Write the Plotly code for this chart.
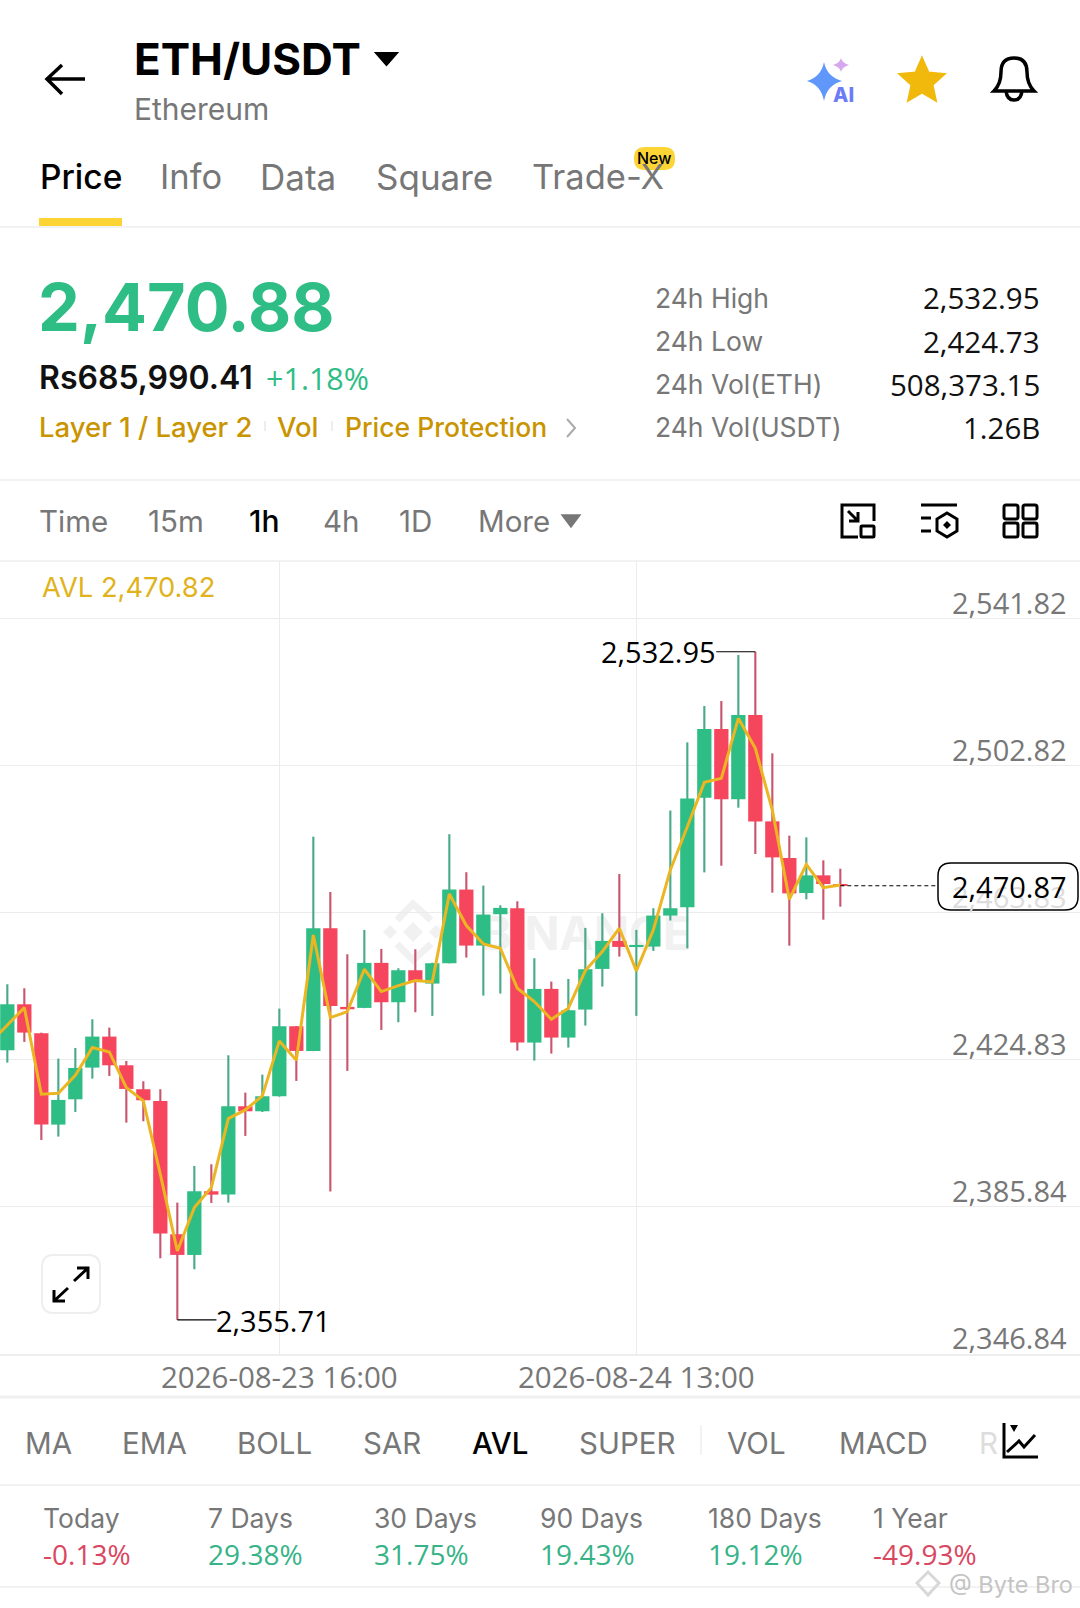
import math
import re

import numpy as np
import pandas as pd
import plotly.graph_objects as go

# hourly candles, first one is 2026-08-23 00:00
opens = [2427.23, 2439.43, 2431.74, 2407.51, 2414.23, 2422.63, 2430.86, 2423.25, 2416.89, 2413.79,
         2378.42, 2372.94, 2389.83, 2388.94, 2412.38, 2411.05, 2415.03, 2433.60, 2427.05, 2459.57,
         2438.73, 2438.47, 2450.41, 2439.97, 2448.46, 2444.92, 2450.32, 2469.86, 2455.00, 2463.32,
         2464.91, 2429.27, 2443.51, 2430.60, 2438.03, 2448.81, 2456.24, 2454.74, 2454.74, 2462.96,
         2465.14, 2494.23, 2512.45, 2493.79, 2516.16, 2487.95, 2478.23, 2468.94, 2473.63, 2471.33]
highs = [2444.74, 2443.68, 2431.90, 2425.02, 2427.85, 2435.45, 2433.24, 2424.40, 2419.01, 2416.89,
         2386.82, 2396.55, 2396.99, 2425.90, 2416.00, 2420.78, 2438.28, 2433.65, 2483.89, 2469.21,
         2452.70, 2459.16, 2454.12, 2448.99, 2454.03, 2450.45, 2484.54, 2474.46, 2470.92, 2465.70,
         2466.76, 2451.64, 2445.45, 2446.16, 2459.69, 2463.58, 2474.01, 2459.16, 2464.91, 2490.82,
         2508.91, 2518.55, 2519.87, 2532.08, 2532.95, 2505.99, 2484.15, 2483.71, 2477.61, 2475.40]
lows = [2423.96, 2429.44, 2403.44, 2404.33, 2410.87, 2419.71, 2420.42, 2408.04, 2408.40, 2372.05,
        2355.71, 2369.14, 2386.73, 2386.82, 2404.51, 2410.87, 2414.94, 2419.10, 2427.00, 2389.74,
        2421.76, 2438.40, 2432.63, 2434.67, 2437.32, 2436.35, 2450.30, 2451.82, 2441.74, 2442.27,
        2427.15, 2424.50, 2426.35, 2427.95, 2433.78, 2444.13, 2452.09, 2436.35, 2453.59, 2461.64,
        2454.26, 2474.42, 2476.19, 2491.58, 2479.29, 2469.03, 2454.97, 2467.26, 2461.87, 2465.32]
closes = [2439.43, 2431.92, 2407.51, 2414.06, 2422.54, 2430.86, 2423.25, 2416.97, 2413.97, 2378.60,
          2372.94, 2389.83, 2388.94, 2412.38, 2411.05, 2415.03, 2433.60, 2427.05, 2459.57, 2438.99,
          2438.11, 2450.41, 2439.97, 2448.46, 2445.37, 2450.32, 2469.86, 2455.00, 2463.23, 2465.00,
          2429.27, 2443.51, 2430.60, 2437.85, 2448.73, 2456.24, 2454.65, 2455.18, 2462.96, 2464.91,
          2494.05, 2512.45, 2493.79, 2516.16, 2487.95, 2478.40, 2468.85, 2473.63, 2471.33, 2470.87]

# AVL line, starts one hour before the first candle (clipped at the left edge)
avl = [2429.27, 2433.95, 2438.55, 2415.56, 2415.82, 2420.60, 2427.94, 2426.79, 2417.33, 2413.79,
       2394.34, 2374.00, 2385.49, 2390.80, 2409.10, 2411.40, 2415.12, 2429.71, 2424.58, 2457.80,
       2435.90, 2437.50, 2448.73, 2442.80, 2444.39, 2445.72, 2445.37, 2468.71, 2460.31, 2455.45,
       2454.30, 2443.69, 2440.15, 2435.46, 2438.38, 2448.37, 2453.41, 2459.60, 2448.28, 2459.16,
       2475.08, 2486.54, 2498.30, 2499.36, 2515.28, 2507.32, 2490.96, 2467.26, 2476.55, 2470.36,
       2471.06]

y_ticks = [2541.82, 2502.82, 2463.83, 2424.83, 2385.84, 2346.84]
x_ticks = ["2026-08-23 16:00", "2026-08-24 13:00"]

stat_labels = ["24h High", "24h Low", "24h Vol(ETH)", "24h Vol(USDT)"]
stat_values = ["2,532.95", "2,424.73", "508,373.15", "1.26B"]
period_labels = ["Today", "7 Days", "30 Days", "90 Days", "180 Days", "1 Year"]
period_values = ["-0.13%", "29.38%", "31.75%", "19.43%", "19.12%", "-49.93%"]

W, H = 1080, 1608
GREEN, RED = "#2ebd85", "#f6465d"
GREEN_WICK, RED_WICK = "#4aa98a", "#c9566f"
GRAY = "#777777"
GOLD = "#c99400"
YELLOW = "#fcd535"
LINE = "#eeeeee"
FONT = "Inter"
NUM_FONT = "Open Sans"  # digits in the app are all the same width, Inter's are not

hours = pd.date_range("2026-08-23 00:00", periods=len(closes), freq="h")
avl_hours = pd.date_range("2026-08-22 23:00", periods=len(avl), freq="h")

o, h, l, c = map(np.array, (opens, highs, lows, closes))
up = c >= o
HOUR_MS = 3600000

fig = go.Figure()

fig.add_trace(go.Bar(
    x=hours, base=l, y=h - l, width=HOUR_MS * 0.125,
    marker=dict(color=[GREEN_WICK if u else RED_WICK for u in up], line=dict(width=0)),
))
fig.add_trace(go.Bar(
    x=hours, base=np.minimum(o, c), y=np.abs(c - o), width=HOUR_MS * 0.84,
    marker=dict(color=[GREEN if u else RED for u in up], line=dict(width=0)),
))
fig.add_trace(go.Scatter(
    x=avl_hours, y=avl, mode="lines",
    line=dict(color="#ecb623", width=3),
))

fig.update_layout(
    width=W, height=H,
    margin=dict(l=0, r=0, t=0, b=0, pad=0),
    paper_bgcolor="white", plot_bgcolor="white",
    barmode="overlay", showlegend=False, hovermode=False, dragmode=False,
    font=dict(family=FONT),
    xaxis=dict(
        type="date",
        range=["2026-08-22 23:34:07", "2026-08-25 15:05:53"],
        tickvals=x_ticks, ticktext=x_ticks,
        tickfont=dict(size=29.5, color=GRAY, family=NUM_FONT),
        ticks="", ticklabelstandoff=-3,
        showgrid=True, gridcolor="#ececec", gridwidth=1,
        showline=True, linecolor=LINE, linewidth=2, zeroline=False,
    ),
    yaxis=dict(
        domain=[1 - 1354 / H, 1 - 561 / H],
        range=[2346.66, 2557.02],
        tickvals=y_ticks, showticklabels=False,
        showgrid=True, gridcolor="#ececec", gridwidth=1, zeroline=False,
    ),
)


def to_paper(d):
    # "M 10 20 L 30 40" in page pixels -> paper fractions
    out = []
    is_x = True
    for tok in re.findall(r"[A-Za-z]|-?[\d.]+", d):
        if tok.isalpha():
            out.append(tok)
            is_x = True
        elif is_x:
            out.append(f"{float(tok) / W:.5f}")
            is_x = False
        else:
            out.append(f"{1 - float(tok) / H:.5f}")
            is_x = True
    return " ".join(out)


def draw(d, stroke=None, fill=None, width=3, layer="above"):
    fig.add_shape(
        type="path", path=to_paper(d), xref="paper", yref="paper", layer=layer,
        line=dict(color=stroke or "rgba(0,0,0,0)", width=width if stroke else 0),
        fillcolor=fill or "rgba(0,0,0,0)",
    )


def rrect(x0, y0, x1, y1, r):
    return (f"M {x0 + r} {y0} L {x1 - r} {y0} Q {x1} {y0} {x1} {y0 + r} L {x1} {y1 - r} "
            f"Q {x1} {y1} {x1 - r} {y1} L {x0 + r} {y1} Q {x0} {y1} {x0} {y1 - r} "
            f"L {x0} {y0 + r} Q {x0} {y0} {x0 + r} {y0} Z")


def hline(y, color=LINE, width=1.5):
    draw(f"M 0 {y} L {W} {y}", stroke=color, width=width)


def text(s, x, y, size, color=GRAY, anchor="left", weight=400, family=FONT):
    fig.add_annotation(
        text=s, x=x / W, y=1 - y / H, xref="paper", yref="paper",
        xanchor=anchor, yanchor="middle", showarrow=False, borderpad=0, borderwidth=0,
        font=dict(family=family, size=size, color=color, weight=weight),
    )


# header
draw("M 85 79 L 47 79 M 62 65 L 47 79 L 62 94", stroke="black", width=3.5)
text("ETH/USDT", 134, 59, 44, "black", weight=700)
draw("M 376 53 L 397 53 L 386.5 65 Z", stroke="black", fill="black", width=2)
text("Ethereum", 134, 109, 30)

draw("M 824 62 Q 827 77 842 81 Q 827 85 824 101 Q 821 85 807 81 Q 821 77 824 62 Z", fill="#5f97fb")
draw("M 841 58 Q 842 63 849 65 Q 842 67 841 72 Q 840 67 833 65 Q 840 63 841 58 Z", fill="#d6a6ee")
text("AI", 843, 95, 20, "#6c7cf5", "center", 800)

star = []
for k in range(10):
    radius = 22.5 if k % 2 == 0 else 10.5
    a = math.pi * k / 5
    star.append(f"{922 + radius * math.sin(a):.1f} {81.5 - radius * math.cos(a):.1f}")
draw("M " + " L ".join(star) + " Z", stroke="#f0b90b", fill="#f0b90b", width=3)

draw("M 994 91 Q 1001 84 1001 72 Q 1001 58 1014 58 Q 1027 58 1027 72 Q 1027 84 1034 91 Z",
     stroke="black", width=3.5)
draw("M 1006 91 Q 1007 100 1014 100 Q 1021 100 1022 91", stroke="black", width=3.5)

# tabs
text("Price", 40, 177, 33.5, "black", weight=500)
text("Info", 160, 177, 34.5)
text("Data", 260, 177, 35)
text("Square", 376, 177, 35)
text("Trade-X", 532, 177, 34.5)
draw(rrect(634, 147, 675, 170, 11), fill=YELLOW)
text("New", 654.5, 158.5, 16, "black", "center", 500)
draw("M 39 222 L 122 222", stroke=YELLOW, width=8)
hline(227)

# price block
text("2,470.88", 38, 307, 66.5, GREEN, weight=700)
text("Rs685,990.41", 39, 378, 32, "#111111", weight=600)
text("+1.18%", 266, 378, 30.5, GREEN, family=NUM_FONT)
text("Layer 1 / Layer 2", 39, 427, 27.5, GOLD, weight=500)
draw("M 265 421 L 265 431", stroke="#eeeeee", width=2)
text("Vol", 277, 427, 27.5, GOLD, weight=500)
draw("M 332 421 L 332 431", stroke="#eeeeee", width=2)
text("Price Protection", 345, 427, 26.5, GOLD, weight=500)
draw("M 567 419 L 575 428 L 567 437", stroke="#aaaaaa", width=2)

for label, value, y in zip(stat_labels, stat_values, [298, 341, 384, 427]):
    text(label, 655, y, 26.5)
    text(value, 1040, y, 29.5, "#111111", "right", 500, NUM_FONT)
hline(480)

# timeframe row
for label, x in zip(["Time", "15m", "4h", "1D", "More"], [39, 148, 323, 399, 478]):
    text(label, x, 521, 29.5)
text("1h", 249, 521, 30, "black", weight=500)
draw("M 562 515 L 580 515 L 571 527 Z", stroke=GRAY, fill=GRAY, width=1.5)

draw("M 858 537 L 842 537 L 842 505 L 874 505 L 874 521", stroke="black", width=3)
draw(rrect(861, 526, 874, 537, 1), stroke="black", width=3)
draw("M 848 511 L 858 521 M 858 512 L 858 521 L 849 521", stroke="black", width=3)
draw("M 921 505 L 957 505 M 921 518 L 931 518 M 921 531 L 931 531", stroke="black", width=3)
draw("M 947 513 L 957 519 L 957 531 L 947 537 L 937 531 L 937 519 Z", stroke="black", width=3)
draw("M 947 521 L 951 525 L 947 529 L 943 525 Z", fill="black")
for x0, y0 in [(1004, 505), (1023, 505), (1004, 523), (1023, 523)]:
    draw(rrect(x0, y0, x0 + 14, y0 + 14, 2), stroke="black", width=3)
hline(561)

# chart texts
text("AVL 2,470.82", 42, 587, 27.3, "#e0b31c")
for v in y_ticks:
    fig.add_annotation(
        text=f"{v:,.2f}", x=1067 / W, xref="paper", y=v, yref="y", yshift=15.5,
        xanchor="right", yanchor="middle", showarrow=False, borderpad=0, borderwidth=0,
        font=dict(family=NUM_FONT, size=29, color="#dddddd" if v == 2463.83 else GRAY),
    )

# binance watermark, under the candles
WM = "#f1f1f1"
draw("M 397 920 L 413 904 L 431 920 M 397 944 L 413 960 L 431 944", stroke=WM, width=7, layer="below")
draw("M 413 922 L 423 932 L 413 942 L 403 932 Z", fill=WM, layer="below")
draw("M 390 925 L 397 932 L 390 939 L 383 932 Z", fill=WM, layer="below")
draw("M 436 925 L 443 932 L 436 939 L 429 932 Z", fill=WM, layer="below")
fig.add_shape(
    type="rect", xref="paper", yref="paper", x0=480 / W, x1=697 / W, y0=1 - 960 / H, y1=1 - 904 / H,
    layer="below", line=dict(width=0),
    label=dict(text="BINANCE", textposition="middle right",
               font=dict(family=FONT, size=46, color=WM, weight=700)),
)

# high / low / last markers
last_dash_end = hours[-1] + pd.Timedelta(hours=5.75)
marker_gap = pd.Timedelta(hours=2.3)
fig.add_shape(type="line", xref="x", yref="y", x0=hours[44] - marker_gap, x1=hours[44],
              y0=highs[44], y1=highs[44], line=dict(color="black", width=1.2))
fig.add_annotation(text="2,532.95", x=hours[44] - marker_gap, y=highs[44], xanchor="right",
                   yanchor="middle", showarrow=False, borderpad=0, borderwidth=0,
                   font=dict(family=NUM_FONT, size=29, color="black"))
fig.add_shape(type="line", xref="x", yref="y", x0=hours[10], x1=hours[10] + marker_gap,
              y0=lows[10], y1=lows[10], line=dict(color="black", width=1.2))
fig.add_annotation(text="2,355.71", x=hours[10] + marker_gap, y=lows[10], yshift=-1, xanchor="left",
                   yanchor="middle", showarrow=False, borderpad=0, borderwidth=0,
                   font=dict(family=NUM_FONT, size=29, color="black"))
fig.add_shape(type="line", xref="x", yref="y", x0=hours[-1], x1=last_dash_end,
              y0=closes[-1], y1=closes[-1], line=dict(color="black", width=1.2, dash="4px,3px"))
draw(rrect(938, 863, 1078, 910, 13), stroke="black", fill="rgba(255,255,255,0.6)", width=1.5)
text("2,470.87", 1067, 886, 29, "black", "right", family=NUM_FONT)

# fullscreen button
draw(rrect(42, 1255, 100, 1313, 12), stroke="#eeeeee", fill="white", width=2)
draw("M 74 1281 L 88 1268 M 77 1268 L 88 1268 L 88 1279", stroke="black", width=3)
draw("M 68 1288 L 54 1301 M 54 1290 L 54 1301 L 65 1301", stroke="black", width=3)

# indicator tabs
hline(1397, "#f0f0f0", 3)
for label, x in zip(["MA", "EMA", "BOLL", "SAR", "SUPER", "VOL", "MACD"],
                    [25, 122, 237, 363, 579, 727, 839]):
    text(label, x, 1443, 29.5)
text("AVL", 472, 1443, 29.5, "black", weight=500)
text("R", 979, 1443, 29.5, "#dddddd")
draw("M 701 1425 L 701 1455", stroke="#eeeeee", width=1.5)
draw("M 1004 1423 L 1004 1457 L 1038 1457", stroke="black", width=3)
draw("M 1007 1452 L 1019 1441 L 1024 1447 L 1035 1435", stroke="black", width=3)
draw("M 1010 1425 L 1018 1425 L 1014 1432 Z", fill="black")
hline(1485)

# performance row
for label, value, x in zip(period_labels, period_values, [43, 208, 374, 540, 708, 873]):
    text(label, x, 1518, 26.5)
    text(value, x, 1554, 28, "#d9475f" if value.startswith("-") else "#37b388", family=NUM_FONT)
hline(1587)

# repost watermark
draw("M 928 1572 L 939 1583 L 928 1595 L 917 1583 Z", stroke="#d8d8d8", width=3)
text("@ Byte Bro", 949, 1584, 23.5, "#c4c4c4")

fig.write_html("out.html", config={"displayModeBar": False},
               post_script="document.body.style.margin='0';")
